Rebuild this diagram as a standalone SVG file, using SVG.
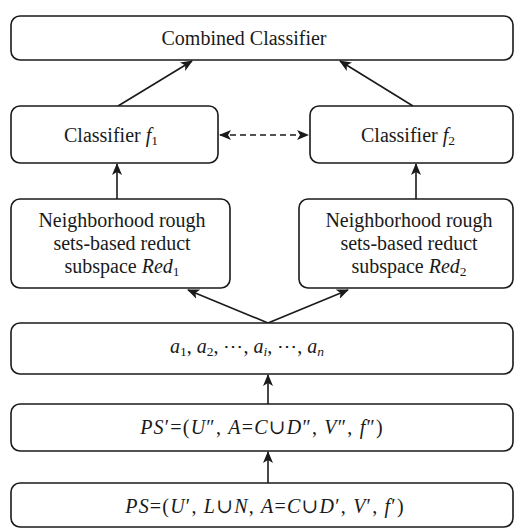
<svg xmlns="http://www.w3.org/2000/svg" width="515" height="529" viewBox="0 0 515 529">
  <defs>
    <style>
      .box { fill: #ffffff; stroke: #1a1a1a; stroke-width: 1.6; }
      .lbl { font-family: "Liberation Serif", "Times New Roman", "DejaVu Serif", serif; font-size: 20px; fill: #1a1a1a; text-anchor: middle; }
      .math { letter-spacing: 1.2px; }
      .it { font-style: italic; }
      .sub { font-size: 13.5px; }
      .edge { stroke: #1a1a1a; stroke-width: 1.6; fill: none; marker-end: url(#head); }
      .dash { stroke-dasharray: 6 4; marker-start: url(#headStart); }
    </style>
    <marker id="head" viewBox="0 0 12 10" refX="11" refY="5" markerWidth="12" markerHeight="10" markerUnits="userSpaceOnUse" orient="auto">
      <path d="M0,0 L12,5 L0,10 L3,5 Z" fill="#1a1a1a"/>
    </marker>
    <marker id="headStart" viewBox="0 0 12 10" refX="1" refY="5" markerWidth="12" markerHeight="10" markerUnits="userSpaceOnUse" orient="auto">
      <path d="M12,0 L0,5 L12,10 L9,5 Z" fill="#1a1a1a"/>
    </marker>
  </defs>
  <rect width="515" height="529" fill="#ffffff"/>

  <g id="connectors">
    <line class="edge" x1="118" y1="106" x2="192" y2="61"/>
    <line class="edge" x1="413" y1="106" x2="340" y2="61"/>
    <line class="edge dash" x1="220" y1="135" x2="308" y2="135"/>
    <line class="edge" x1="117" y1="199" x2="117" y2="164"/>
    <line class="edge" x1="416" y1="199" x2="416" y2="164"/>
    <line class="edge" x1="268" y1="323" x2="188" y2="290"/>
    <line class="edge" x1="268" y1="323" x2="348" y2="290"/>
    <line class="edge" x1="268" y1="404" x2="268" y2="375"/>
    <line class="edge" x1="268" y1="483" x2="268" y2="452"/>
  </g>

  <g id="combined">
    <rect class="box" x="11" y="16" width="502" height="44" rx="9"/>
    <text class="lbl" x="244" y="45">Combined Classifier</text>
  </g>

  <g id="classifier1">
    <rect class="box" x="11" y="106" width="207" height="57" rx="9"/>
    <text class="lbl" x="111" y="142">Classifier <tspan class="it">f</tspan><tspan class="sub" dy="3">1</tspan></text>
  </g>

  <g id="classifier2">
    <rect class="box" x="310" y="106" width="203" height="57" rx="9"/>
    <text class="lbl" x="408" y="142">Classifier <tspan class="it">f</tspan><tspan class="sub" dy="3">2</tspan></text>
  </g>

  <g id="reduct1">
    <rect class="box" x="11" y="199" width="219" height="89" rx="9"/>
    <text class="lbl" x="122" y="227">Neighborhood rough</text>
    <text class="lbl" x="122" y="250">sets-based reduct</text>
    <text class="lbl" x="122" y="273">subspace <tspan class="it">Red</tspan><tspan class="sub" dy="3">1</tspan></text>
  </g>

  <g id="reduct2">
    <rect class="box" x="299" y="199" width="214" height="89" rx="9"/>
    <text class="lbl" x="409" y="227">Neighborhood rough</text>
    <text class="lbl" x="409" y="250">sets-based reduct</text>
    <text class="lbl" x="409" y="273">subspace <tspan class="it">Red</tspan><tspan class="sub" dy="3">2</tspan></text>
  </g>

  <g id="attributes">
    <rect class="box" x="11" y="323" width="502" height="51" rx="9"/>
    <text class="lbl" x="247" y="353"><tspan class="it">a</tspan><tspan class="sub" dy="3">1</tspan><tspan dy="-3">, </tspan><tspan class="it">a</tspan><tspan class="sub" dy="3">2</tspan><tspan dy="-3">, ⋯, </tspan><tspan class="it">a</tspan><tspan class="sub it" dy="3">i</tspan><tspan dy="-3">, ⋯, </tspan><tspan class="it">a</tspan><tspan class="sub it" dy="3">n</tspan></text>
  </g>

  <g id="system2">
    <rect class="box" x="11" y="404" width="502" height="47" rx="9"/>
    <text class="lbl math" x="262" y="434"><tspan class="it">PS</tspan>′=(<tspan class="it">U</tspan>″, <tspan class="it">A</tspan>=<tspan class="it">C</tspan>∪<tspan class="it">D</tspan>″, <tspan class="it">V</tspan>″, <tspan class="it">f</tspan>″)</text>
  </g>

  <g id="system1">
    <rect class="box" x="11" y="483" width="502" height="44" rx="9"/>
    <text class="lbl math" x="265" y="513"><tspan class="it">PS</tspan>=(<tspan class="it">U</tspan>′, <tspan class="it">L</tspan>∪<tspan class="it">N</tspan>, <tspan class="it">A</tspan>=<tspan class="it">C</tspan>∪<tspan class="it">D</tspan>′, <tspan class="it">V</tspan>′, <tspan class="it">f</tspan>′)</text>
  </g>
</svg>
